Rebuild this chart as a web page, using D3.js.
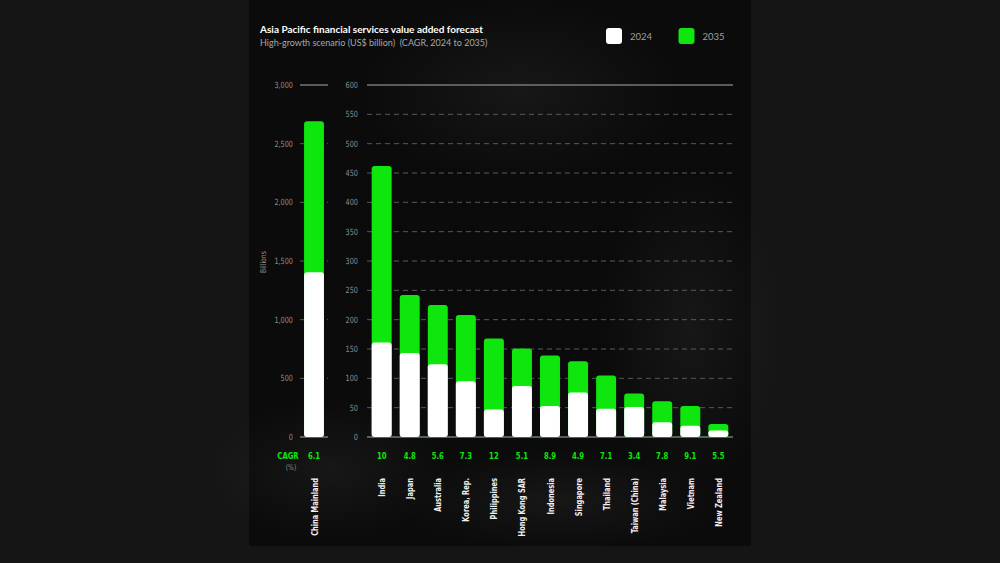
<!DOCTYPE html>
<html>
<head>
<meta charset="utf-8">
<script src="https://cdn.jsdelivr.net/npm/d3@7"></script>
<style>
  html, body { margin: 0; padding: 0; background: #151515; }
  svg { display: block; }
</style>
</head>
<body>
<div id="chart"></div>
<script>
"use strict";

// == DATA ==
var bigCountry = ["China Mainland"];
var big2024 = [1405];
var big2035 = [2690];
var bigCagr = ["6.1"];

var countries = ["India", "Japan", "Australia", "Korea, Rep.", "Philippines", "Hong Kong SAR",
  "Indonesia", "Singapore", "Thailand", "Taiwan (China)", "Malaysia", "Vietnam", "New Zealand"];
var v2024 = [161, 143, 124, 95, 47, 87, 53, 76, 48, 51, 25, 19, 11];
var v2035 = [462, 242, 225, 208, 168, 151, 139, 129, 105, 74, 61, 53, 22];
var cagr = ["10", "4.8", "5.6", "7.3", "12", "5.1", "8.9", "4.9", "7.1", "3.4", "7.8", "9.1", "5.5"];

var bigTicks = [0, 500, 1000, 1500, 2000, 2500, 3000];
var smallTicks = [0, 50, 100, 150, 200, 250, 300, 350, 400, 450, 500, 550, 600];
var seriesNames = ["2024", "2035"];

var visualize = function() {
  var W = 1000, H = 563;
  var green = "#0ee60e", white = "#ffffff";
  var narrow = "'Liberation Sans Narrow', 'DejaVu Sans Condensed', 'Roboto', sans-serif";

  var svg = d3.select("#chart").append("svg")
    .attr("width", W).attr("height", H);

  var defs = svg.append("defs");
  var glow = defs.append("radialGradient").attr("id", "glow");
  glow.append("stop").attr("offset", "0%").attr("stop-color", "#fff").attr("stop-opacity", 0.05);
  glow.append("stop").attr("offset", "100%").attr("stop-color", "#fff").attr("stop-opacity", 0);

  // == panel ==
  svg.append("rect").attr("width", W).attr("height", H).attr("fill", "#151515");
  svg.append("rect").attr("x", 249).attr("y", 0).attr("width", 502).attr("height", 546)
    .attr("fill", "#0b0b0b");
  var blobs = [[520, 90, 160, 90], [690, 330, 90, 160], [330, 470, 120, 70], [560, 500, 170, 50]];
  svg.append("g").selectAll("ellipse").data(blobs).join("ellipse")
    .attr("cx", function(d) { return d[0]; }).attr("cy", function(d) { return d[1]; })
    .attr("rx", function(d) { return d[2]; }).attr("ry", function(d) { return d[3]; })
    .attr("fill", "url(#glow)");

  // == title / legend ==
  svg.append("text").attr("x", 260).attr("y", 33)
    .attr("font-family", "Lato, 'Open Sans', sans-serif").attr("font-weight", 700)
    .attr("font-size", 10).attr("fill", "#fff")
    .text("Asia Pacific financial services value added forecast");
  svg.append("text").attr("x", 260).attr("y", 46)
    .attr("font-family", "Lato, 'Open Sans', sans-serif")
    .attr("font-size", 9).attr("fill", "#a8a8a8")
    .text("High-growth scenario (US$ billion)\u00a0 (CAGR, 2024 to 2035)");

  var legend = svg.append("g").selectAll("g").data(seriesNames).join("g")
    .attr("transform", function(d, i) { return "translate(" + (606 + i * 72.5) + ",28)"; });
  legend.append("rect").attr("width", 16).attr("height", 16).attr("rx", 3)
    .attr("fill", function(d, i) { return i === 0 ? white : green; });
  legend.append("text").attr("x", 24).attr("y", 12)
    .attr("font-family", "Lato, 'Open Sans', sans-serif").attr("font-size", 9.5)
    .attr("fill", "#a0a0a0").text(function(d) { return d; });

  // == scales ==
  var y0 = 437, y1 = 85;
  var yBig = d3.scaleLinear().domain([0, 3000]).range([y0, y1]);
  var ySmall = d3.scaleLinear().domain([0, 600]).range([y0, y1]);
  var xBig = d3.scaleBand().domain(bigCountry).range([300, 328]).paddingInner(0.29).paddingOuter(0.145);
  var xSmall = d3.scaleBand().domain(countries).range([367, 733]).paddingInner(0.288).paddingOuter(0.167);

  // == axes ==
  function drawAxis(scale, ticks, x0, x1, labelX, fmt) {
    var g = svg.append("g");
    g.selectAll("line").data(ticks).join("line")
      .attr("x1", x0).attr("x2", x1)
      .attr("y1", function(d) { return scale(d); }).attr("y2", function(d) { return scale(d); })
      .attr("stroke", function(d, i) { return (i === 0 || i === ticks.length - 1) ? "#777" : "#5a5a5a"; })
      .attr("stroke-width", function(d, i) { return (i === 0 || i === ticks.length - 1) ? 1.5 : 1; })
      .attr("stroke-dasharray", function(d, i) { return (i === 0 || i === ticks.length - 1) ? null : "5,4"; });
    g.selectAll("text").data(ticks).join("text")
      .attr("transform", function(d) { return "translate(" + labelX + "," + (scale(d) + 3) + ") scale(0.85,1)"; })
      .attr("text-anchor", "end").attr("font-family", narrow).attr("font-size", 8.5)
      .attr("fill", "#8a8a8a").text(fmt);
  }
  drawAxis(yBig, bigTicks, 300, 328, 293, d3.format(","));
  drawAxis(ySmall, smallTicks, 367, 733, 358, d3.format(","));

  svg.append("text").attr("transform", "translate(266,262) rotate(-90) scale(0.85,1)")
    .attr("text-anchor", "middle").attr("font-family", narrow).attr("font-size", 8)
    .attr("fill", "#8a8a8a").text("Billions");

  // == bars ==
  function drawBars(x, y, names, a, b) {
    var g = svg.append("g");
    g.selectAll("rect.b").data(names).join("rect").attr("class", "b")
      .attr("x", function(d) { return x(d); }).attr("width", x.bandwidth())
      .attr("y", function(d, i) { return y(b[i]); })
      .attr("height", function(d, i) { return y(0) - y(b[i]); })
      .attr("rx", 3).attr("fill", green);
    g.selectAll("rect.a").data(names).join("rect").attr("class", "a")
      .attr("x", function(d) { return x(d); }).attr("width", x.bandwidth())
      .attr("y", function(d, i) { return y(a[i]); })
      .attr("height", function(d, i) { return y(0) - y(a[i]); })
      .attr("rx", 3).attr("fill", white);
  }
  drawBars(xBig, yBig, bigCountry, big2024, big2035);
  drawBars(xSmall, ySmall, countries, v2024, v2035);

  // == labels under bars ==
  function drawLabels(x, names, rates) {
    var g = svg.append("g");
    g.selectAll("text.c").data(names).join("text").attr("class", "c")
      .attr("transform", function(d) {
        return "translate(" + (x(d) + x.bandwidth() / 2) + ",459) scale(0.85,1)";
      })
      .attr("text-anchor", "middle").attr("font-family", narrow).attr("font-weight", 700)
      .attr("font-size", 9).attr("fill", green)
      .text(function(d, i) { return rates[i]; });
    g.selectAll("text.n").data(names).join("text").attr("class", "n")
      .attr("transform", function(d) {
        return "translate(" + (x(d) + x.bandwidth() / 2 + 3.5) + ",478) rotate(-90) scale(0.78,1)";
      })
      .attr("text-anchor", "end").attr("font-family", narrow).attr("font-weight", 700)
      .attr("font-size", 9.5).attr("fill", "#f0f0f0")
      .text(function(d) { return d; });
  }
  drawLabels(xBig, bigCountry, bigCagr);
  drawLabels(xSmall, countries, cagr);

  svg.append("text").attr("transform", "translate(288,459) scale(0.85,1)").attr("text-anchor", "middle")
    .attr("font-family", narrow).attr("font-weight", 700).attr("font-size", 9)
    .attr("fill", green).text("CAGR");
  svg.append("text").attr("transform", "translate(291,470) scale(0.85,1)").attr("text-anchor", "middle")
    .attr("font-family", narrow).attr("font-size", 8)
    .attr("fill", "#8a8a8a").text("(%)");
};

visualize();
</script>
</body>
</html>
